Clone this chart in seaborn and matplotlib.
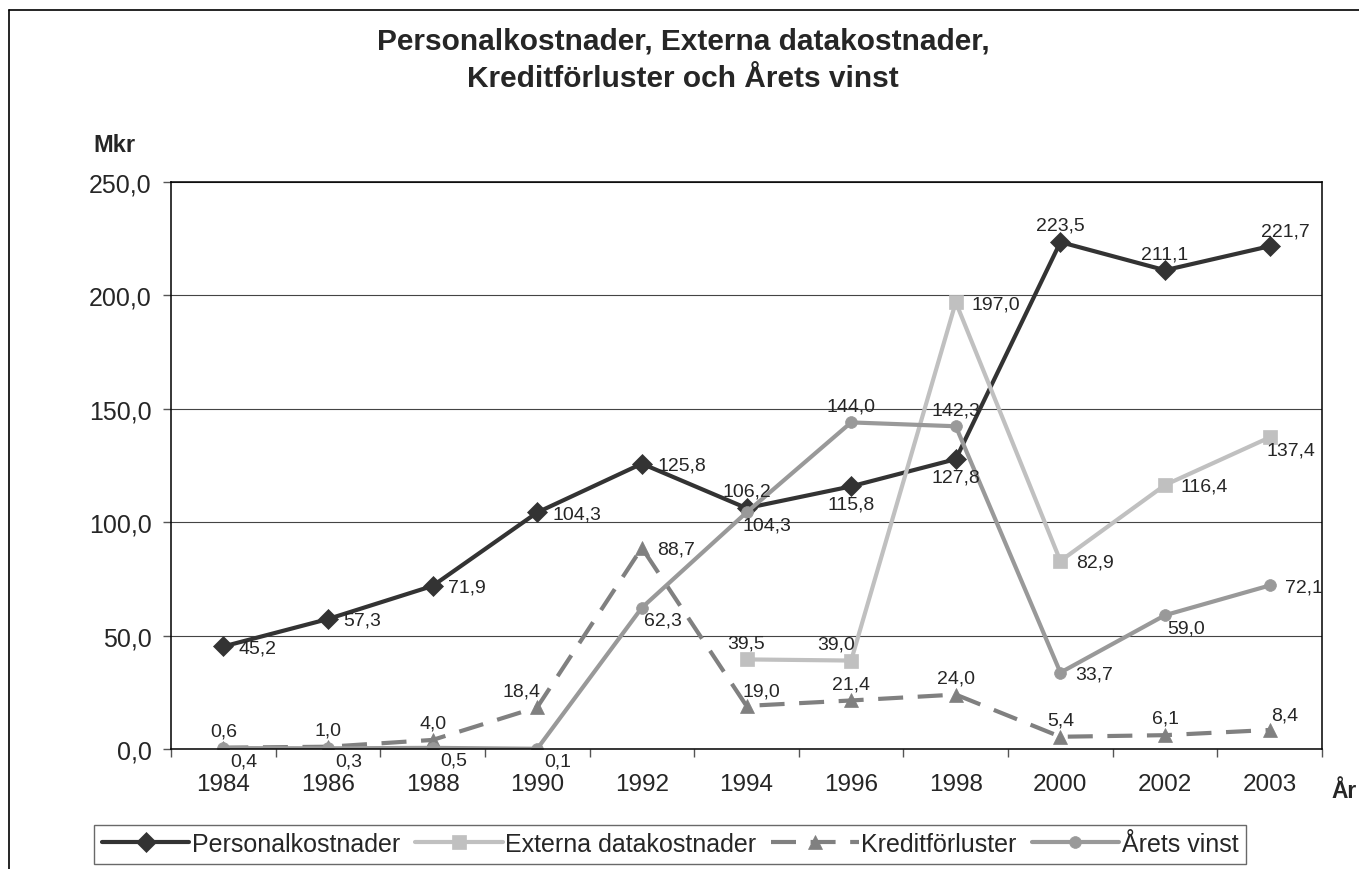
import numpy as np
import pandas as pd
import seaborn as sns
import matplotlib.pyplot as plt
from matplotlib.lines import Line2D

years = ["1984", "1986", "1988", "1990", "1992", "1994", "1996", "1998", "2000", "2002", "2003"]
personal = [45.2, 57.3, 71.9, 104.3, 125.8, 106.2, 115.8, 127.8, 223.5, 211.1, 221.7]
externa = [np.nan, np.nan, np.nan, np.nan, np.nan, 39.5, 39.0, 197.0, 82.9, 116.4, 137.4]
kredit = [0.6, 1.0, 4.0, 18.4, 88.7, 19.0, 21.4, 24.0, 5.4, 6.1, 8.4]
vinst = [0.4, 0.3, 0.5, 0.1, 62.3, 104.3, 144.0, 142.3, 33.7, 59.0, 72.1]
names = ["Personalkostnader", "Externa datakostnader", "Kreditförluster", "Årets vinst"]

# where each data label sits relative to its point
place_personal = ["r", "r", "r", "r", "r", "a", "b", "b", "a", "a", "ar"]
place_externa = [None] * 5 + ["a", "al", "r", "r", "r", "br"]
place_kredit = ["a", "a", "a", "al", "r", "ar", "a", "a", "a", "a", "ar"]
place_vinst = ["br", "br", "br", "br", "br", "br", "a", "a", "r", "br", "r"]

offsets = {
    "r": (11, -1, "left"),
    "a": (0, 12, "center"),
    "b": (0, -13, "center"),
    "br": (15, -9, "center"),
    "al": (-11, 12, "center"),
    "ar": (11, 11, "center"),
}

sns.set_style("ticks")
plt.rcParams["font.family"] = ["Liberation Sans", "DejaVu Sans"]

fig = plt.figure(figsize=(13.59, 8.7), dpi=100)
ax = fig.add_axes([171 / 1359, 1 - 750 / 870, (1322 - 171) / 1359, (750 - 183) / 870])

pos = np.arange(len(years))
styles = [
    dict(color="#333333", marker="D", markersize=10.5, linestyle="-"),
    dict(color="#c0c0c0", marker="s", markersize=10, linestyle="-"),
    dict(color="#808080", marker="^", markersize=10.5, linestyle=(0, (6, 3.5))),
    dict(color="#999999", marker="o", markersize=8.5, linestyle="-"),
]
series = [personal, externa, kredit, vinst]
places = [place_personal, place_externa, place_kredit, place_vinst]

for vals, name, st in zip(series, names, styles):
    df = pd.DataFrame({"pos": pos, "val": vals}).dropna()
    sns.lineplot(data=df, x="pos", y="val", ax=ax, label=name, lw=3, errorbar=None,
                 markeredgecolor=st["color"], markeredgewidth=0.5, **st)

for vals, pl in zip(series, places):
    for i, (v, p) in enumerate(zip(vals, pl)):
        if p is None or np.isnan(v):
            continue
        dx, dy, ha = offsets[p]
        ax.annotate(f"{v:.1f}".replace(".", ","), (i, v), xytext=(dx, dy),
                    textcoords="offset points", ha=ha, va="center", fontsize=14, zorder=5)

ax.set_xlim(-0.5, len(years) - 0.5)
ax.set_ylim(0, 250)
ax.set_xticks(pos)
ax.set_xticklabels(years)
ax.set_xticks(np.arange(-0.5, len(years)), minor=True)
ax.set_yticks(np.arange(0, 251, 50))
ax.set_yticklabels([f"{t:.1f}".replace(".", ",") for t in np.arange(0, 251, 50)])
ax.tick_params(axis="x", which="major", length=0, pad=17, labelsize=17.5)
ax.tick_params(axis="x", which="minor", length=6, width=1, color="#555555", direction="out")
ax.tick_params(axis="y", length=6, width=1, color="#555555", pad=8, labelsize=18, direction="out")
ax.set_xlabel("")
ax.set_ylabel("")
ax.yaxis.grid(True, color="#444444", lw=0.8)
ax.set_axisbelow(True)
for s in ax.spines.values():
    s.set_visible(True)
    s.set_color("black")
    s.set_linewidth(1.1)

handles, labels = ax.get_legend_handles_labels()
leg = fig.legend(handles, labels, loc="center", bbox_to_anchor=(670 / 1359, 1 - 845 / 870), ncol=4,
                 fontsize=18, frameon=True, fancybox=False, handlelength=3.5, handletextpad=0.1,
                 columnspacing=0.6, borderpad=0.3, borderaxespad=0)
leg.get_frame().set_edgecolor("#444444")
leg.get_frame().set_linewidth(1.0)
ax.get_legend().remove()

fig.text(683 / 1359, 1 - 49 / 870, "Personalkostnader, Externa datakostnader,",
         ha="center", va="baseline", fontsize=21.5, fontweight="bold")
fig.text(683 / 1359, 1 - 87 / 870, "Kreditförluster och Årets vinst",
         ha="center", va="baseline", fontsize=21.5, fontweight="bold")
fig.text(93 / 1359, 1 - 152 / 870, "Mkr", ha="left", va="baseline", fontsize=17, fontweight="bold")
fig.text(1331 / 1359, 1 - 798 / 870, "År", ha="left", va="baseline", fontsize=16.5, fontweight="bold")

fig.add_artist(Line2D([8.5 / 1359, 8.5 / 1359], [0, 1 - 11 / 870], transform=fig.transFigure,
                      color="black", lw=1.2))
fig.add_artist(Line2D([8.5 / 1359, 1], [1 - 11 / 870, 1 - 11 / 870], transform=fig.transFigure,
                      color="black", lw=1.2))

plt.savefig("out.png", dpi=100)
